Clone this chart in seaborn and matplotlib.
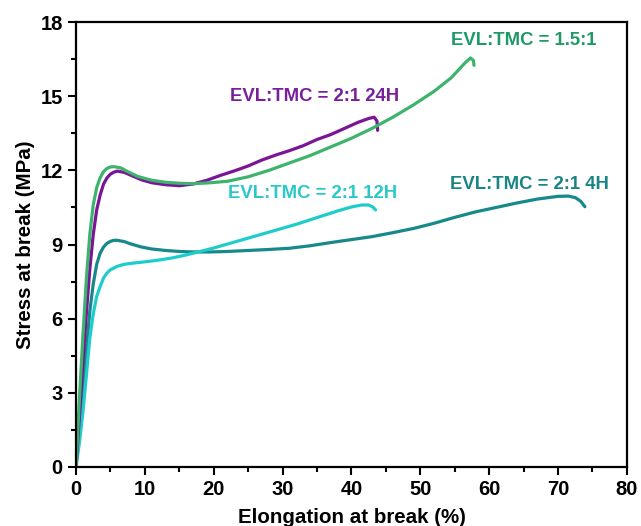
import matplotlib
matplotlib.use("Agg")
import matplotlib.pyplot as plt
import seaborn as sns
from matplotlib.ticker import MultipleLocator

sns.set_theme(style="white")
plt.rcParams['font.family'] = ['Liberation Sans', 'DejaVu Sans']
plt.rcParams['font.weight'] = 'bold'

# 1.5:1
x_15 = [0, 0.5, 1.0, 1.5, 2.0, 2.5, 3.0, 3.5, 4.0, 4.5, 5.0, 5.5, 6.5, 7.5, 9, 11, 13, 15, 17, 19.5,
        22, 25, 28, 31, 34, 37, 40, 43, 46, 49, 52, 54.5, 56.5, 57.3, 57.7, 57.8]
y_15 = [0, 2.8, 5.3, 7.6, 9.4, 10.6, 11.3, 11.7, 11.95, 12.08, 12.14, 12.15, 12.1, 11.95, 11.75, 11.6,
        11.52, 11.48, 11.46, 11.5, 11.56, 11.74, 12.0, 12.3, 12.6, 12.95, 13.3, 13.7, 14.15, 14.65,
        15.2, 15.75, 16.35, 16.55, 16.45, 16.25]

# 2:1 24H
x_24 = [0, 0.5, 1.0, 1.5, 2.0, 2.5, 3.0, 3.5, 4.0, 4.5, 5.0, 5.5, 6.0, 7.0, 8.0, 9.5, 11, 13, 15, 17,
        19, 21, 23, 25, 27, 29, 31, 33, 35, 37, 39, 41, 42.5, 43.3, 43.7, 43.8]
y_24 = [0, 2.1, 4.2, 6.2, 8.0, 9.4, 10.4, 11.0, 11.45, 11.7, 11.85, 11.93, 11.97, 11.92, 11.8, 11.62,
        11.5, 11.42, 11.38, 11.45, 11.6, 11.8, 11.98, 12.18, 12.42, 12.62, 12.8, 13.0, 13.25, 13.45,
        13.7, 13.95, 14.1, 14.15, 14.0, 13.62]

# 2:1 4H
x_4 = [0, 0.5, 1.0, 1.5, 2.0, 2.5, 3.0, 3.5, 4.0, 4.5, 5.0, 5.5, 6.0, 7.0, 8.0, 9.5, 11, 13, 15, 17,
       19.5, 22, 25, 28, 31, 34, 37, 40, 43, 46, 49, 52, 55, 58, 61, 64, 67, 70, 71.5, 72.5, 73.3, 73.9]
y_4 = [0, 1.6, 3.2, 4.7, 6.3, 7.4, 8.2, 8.65, 8.9, 9.05, 9.13, 9.17, 9.17, 9.12, 9.02, 8.9, 8.82,
       8.76, 8.72, 8.7, 8.7, 8.72, 8.76, 8.8, 8.85, 8.95, 9.08, 9.2, 9.32, 9.48, 9.65, 9.86, 10.1,
       10.32, 10.5, 10.68, 10.84, 10.95, 10.96, 10.9, 10.75, 10.53]

# 2:1 12H
x_12 = [0, 0.5, 1.0, 1.5, 2.0, 2.5, 3.0, 3.5, 4.0, 4.5, 5.0, 6.0, 7.0, 8.0, 10, 12, 14, 16, 18,
        20, 22, 24, 26, 28, 30, 32, 34, 36, 38, 40, 41.5, 42.5, 43.1, 43.5]
y_12 = [0, 1.0, 2.2, 3.7, 5.2, 6.2, 6.9, 7.3, 7.65, 7.85, 7.98, 8.12, 8.2, 8.24, 8.3, 8.37, 8.46,
        8.58, 8.72, 8.86, 9.02, 9.18, 9.34, 9.5, 9.66, 9.82, 10.0, 10.18, 10.36, 10.52, 10.6, 10.6,
        10.52, 10.4]

labels = ["EVL:TMC = 1.5:1", "EVL:TMC = 2:1 24H", "EVL:TMC = 2:1 12H", "EVL:TMC = 2:1 4H"]
line_colors = ["#3db36b", "#7a1595", "#1fcccc", "#17898a"]
text_colors = ["#1f9966", "#7a1f99", "#2ac9c9", "#1b8585"]
label_x = [65.0, 34.7, 34.3, 65.9]
label_y = [17.27, 14.97, 11.08, 11.41]

fig = plt.figure(figsize=(6.41, 5.26), dpi=100)
ax = fig.add_axes([0.1186, 0.1122, 0.978 - 0.1186, 0.958 - 0.1122])

series = [(x_4, y_4), (x_12, y_12), (x_24, y_24), (x_15, y_15)]
colors = [line_colors[3], line_colors[2], line_colors[1], line_colors[0]]
for (xs, ys), c in zip(series, colors):
    sns.lineplot(x=xs, y=ys, ax=ax, color=c, linewidth=2.3, sort=False, estimator=None)

for t, c, lx, ly in zip(labels, text_colors, label_x, label_y):
    ax.text(lx, ly, t, color=c, fontsize=13.3, fontweight='bold', ha='center', va='center')

ax.set_xlim(0, 80)
ax.set_ylim(0, 18)
ax.xaxis.set_major_locator(MultipleLocator(10))
ax.xaxis.set_minor_locator(MultipleLocator(5))
ax.yaxis.set_major_locator(MultipleLocator(3))
ax.yaxis.set_minor_locator(MultipleLocator(1.5))
ax.tick_params(axis='both', which='major', direction='out', length=6, width=1.5,
               labelsize=14.5, color='black', labelcolor='black', bottom=True, left=True)
ax.tick_params(axis='both', which='minor', direction='out', length=3.5, width=1.5,
               color='black', bottom=True, left=True)
for lab in ax.get_xticklabels() + ax.get_yticklabels():
    lab.set_fontweight('bold')
for sp in ax.spines.values():
    sp.set_visible(True)
    sp.set_color('black')
    sp.set_linewidth(1.6)

ax.set_xlabel("Elongation at break (%)", fontsize=14.8, fontweight='bold', color='black', labelpad=6)
ax.set_ylabel("Stress at break (MPa)", fontsize=14.8, fontweight='bold', color='black', labelpad=4)
ax.grid(False)

fig.savefig("out.png", dpi=100)
